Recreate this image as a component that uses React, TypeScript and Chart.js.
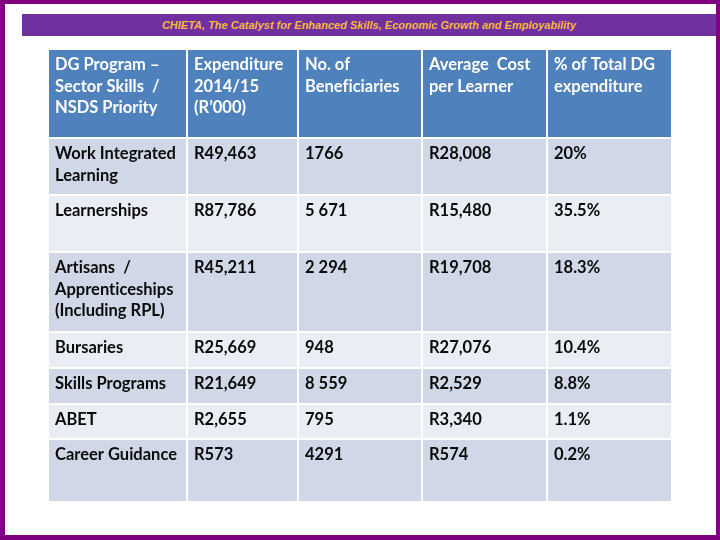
import React, { useEffect, useRef } from "react";
import { Chart, registerables } from "chart.js";

Chart.register(...registerables);

// ---- Data ----
const headers = [
  "DG Program –\nSector Skills  /\nNSDS Priority",
  "Expenditure\n2014/15\n(R’000)",
  "No. of\nBeneficiaries",
  "Average  Cost\nper Learner",
  "% of Total DG\nexpenditure",
];
const programs = [
  "Work Integrated\nLearning",
  "Learnerships",
  "Artisans  /\nApprenticeships\n(Including RPL)",
  "Bursaries",
  "Skills Programs",
  "ABET",
  "Career Guidance",
];
const expenditure = ["R49,463", "R87,786", "R45,211", "R25,669", "R21,649", "R2,655", "R573"];
const beneficiaries = ["1766", "5 671", "2 294", "948", "8 559", "795", "4291"];
const avgCost = ["R28,008", "R15,480", "R19,708", "R27,076", "R2,529", "R3,340", "R574"];
const shareOfTotal = ["20%", "35.5%", "18.3%", "10.4%", "8.8%", "1.1%", "0.2%"];

const bannerText = "CHIETA, The Catalyst for Enhanced Skills, Economic Growth and Employability";

// ---- Layout (table grid, in table units) ----
const columnWidths = [139, 111, 124, 125, 125];
const rowHeights = [89, 57, 57, 80, 36, 36, 35, 63];

// ---- Styles ----
const HEADER_BG = "#4F81BD";
const ODD_BG = "#D0D8E8";
const EVEN_BG = "#E9EDF4";
const FRAME = "#800080";
const BANNER_BG = "#7030A0";
const BANNER_FG = "#F8B840";
const CELL_FONT = "bold 16.5px Lato";

function cumulative(arr: number[]): number[] {
  const out: number[] = [];
  let s = 0;
  for (const v of arr) {
    out.push(s);
    s += v;
  }
  return out;
}

export default function App() {
  const ref = useRef<HTMLCanvasElement>(null);

  useEffect(() => {
    if (!ref.current) return;
    const rows: string[][] = [
      headers,
      ...programs.map((p, i) => [p, expenditure[i], beneficiaries[i], avgCost[i], shareOfTotal[i]]),
    ];
    const colStarts = cumulative(columnWidths);
    const rowStarts = cumulative(rowHeights);
    const totalW = columnWidths.reduce((a, b) => a + b, 0);
    const totalH = rowHeights.reduce((a, b) => a + b, 0);

    const datasets = rows.map((cells, r) => ({
      label: r === 0 ? "Header" : programs[r - 1],
      data: cells.map((_, c) => ({
        x: [colStarts[c], colStarts[c] + columnWidths[c]],
        y: rowStarts[r] + rowHeights[r] / 2,
      })),
      backgroundColor: r === 0 ? HEADER_BG : r % 2 === 1 ? ODD_BG : EVEN_BG,
      borderColor: "#FFFFFF",
      borderWidth: 1,
      borderSkipped: false,
      inflateAmount: 0,
      barThickness: rowHeights[r],
      grouped: false,
    }));

    const textPlugin = {
      id: "cellText",
      afterDatasetsDraw(chart: any) {
        const ctx = chart.ctx as any;
        ctx.save();
        ctx.font = CELL_FONT;
        ctx.textBaseline = "middle";
        ctx.textAlign = "left";
        try {
          ctx.textRendering = "optimizeSpeed";
        } catch (e) {
          /* ignore */
        }
        rows.forEach((cells, r) => {
          const meta = chart.getDatasetMeta(r);
          ctx.fillStyle = r === 0 ? "#FFFFFF" : "#0A0A0A";
          cells.forEach((text, c) => {
            const el = meta.data[c];
            const p = el.getProps(["x", "base", "y", "height"], true);
            const left = Math.min(p.x, p.base) + 7;
            const top = p.y - p.height / 2;
            text.split("\n").forEach((line, k) => {
              ctx.fillText(line, left, top + 16 + k * 21.5);
            });
          });
        });
        ctx.restore();
      },
    };

    const chart = new Chart(ref.current, {
      type: "bar",
      data: { datasets: datasets as any },
      options: {
        indexAxis: "y",
        responsive: false,
        maintainAspectRatio: false,
        animation: false,
        events: [],
        layout: { padding: { left: 48, right: 48, top: 49, bottom: 38 } },
        plugins: { legend: { display: false }, tooltip: { enabled: false }, title: { display: false } },
        scales: {
          x: { type: "linear", min: 0, max: totalW, display: false, offset: false },
          y: { type: "linear", min: 0, max: totalH, reverse: true, display: false, offset: false },
        },
      } as any,
      plugins: [textPlugin],
    });
    return () => chart.destroy();
  }, []);

  return (
    <div style={{ position: "absolute", left: 0, top: 0, width: 720, height: 540, background: "#FFFFFF", overflow: "hidden" }}>
      <canvas ref={ref} width={720} height={540} style={{ position: "absolute", left: 0, top: 0, width: 720, height: 540 }} />
      <div
        style={{
          position: "absolute",
          left: 22,
          top: 14,
          width: 694,
          height: 22,
          background: BANNER_BG,
          color: BANNER_FG,
          fontFamily: "'Liberation Sans', Arial, sans-serif",
          fontStyle: "italic",
          fontWeight: "bold",
          fontSize: 11,
          lineHeight: "22px",
          textAlign: "center",
          whiteSpace: "nowrap",
        }}
      >
        {bannerText}
      </div>
      <div
        style={{
          position: "absolute",
          left: 0,
          top: 0,
          width: 720,
          height: 540,
          boxSizing: "border-box",
          borderStyle: "solid",
          borderColor: FRAME,
          borderWidth: "4px 4px 5px 5px",
          pointerEvents: "none",
        }}
      />
    </div>
  );
}
